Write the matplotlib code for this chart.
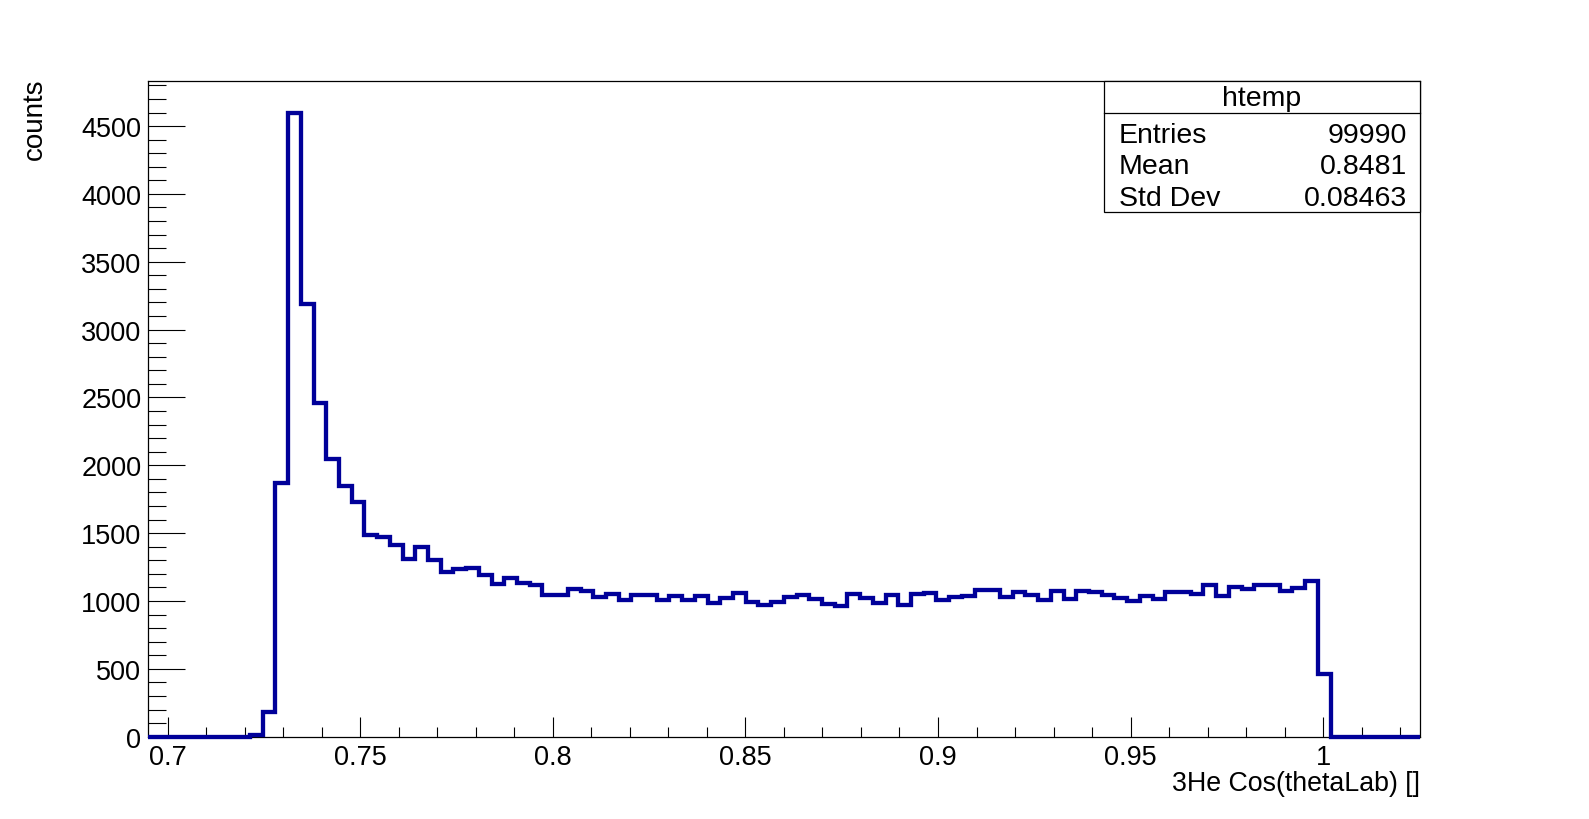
import numpy as np
import matplotlib
matplotlib.use("Agg")
import matplotlib.pyplot as plt
from matplotlib.patches import Rectangle
from matplotlib.lines import Line2D
from matplotlib.ticker import MultipleLocator, FixedLocator

# ---- data ----
x_lo = 0.695
x_hi = 1.025
n_bins = 100
counts = [
    0, 0, 0, 0, 0, 0, 0, 0, 15, 185,
    1870, 4600, 3190, 2460, 2050, 1850, 1730, 1490, 1470, 1410,
    1310, 1400, 1300, 1214, 1238, 1246, 1189, 1122, 1172, 1130,
    1120, 1046, 1046, 1090, 1075, 1026, 1048, 1004, 1046, 1046,
    1004, 1036, 1010, 1036, 987, 1024, 1056, 992, 972, 990,
    1027, 1044, 1012, 975, 963, 1049, 1019, 987, 1041, 972,
    1049, 1061, 1005, 1027, 1036, 1078, 1078, 1032, 1067, 1047,
    1010, 1074, 1017, 1071, 1064, 1047, 1024, 1000, 1036, 1017,
    1069, 1069, 1054, 1121, 1040, 1101, 1091, 1116, 1116, 1071,
    1094, 1150, 462, 0, 0, 0, 0, 0, 0, 0,
]
x_major = [0.7, 0.75, 0.8, 0.85, 0.9, 0.95, 1.0]
x_major_labels = ["0.7", "0.75", "0.8", "0.85", "0.9", "0.95", "1"]
stats_title = "htemp"
stats_names = ["Entries", "Mean", "Std Dev"]
stats_values = ["99990", "0.8481", "0.08463"]
x_title = "3He Cos(thetaLab) []"
y_title = "counts"

# ---- figure ----
W, H = 1589, 820
fig = plt.figure(figsize=(W / 100, H / 100), dpi=100)
plt.rcParams['font.family'] = ['Liberation Sans', 'DejaVu Sans']

ax_l, ax_r = 148.3 / W, 1419.5 / W
ax_b, ax_t = (H - 737.7) / H, (H - 82.3) / H
ax = fig.add_axes([ax_l, ax_b, ax_r - ax_l, ax_t - ax_b])

edges = np.linspace(x_lo, x_hi, n_bins + 1)
ax.stairs(counts, edges, color="#000099", linewidth=3.1, clip_on=False, zorder=3)

ax.set_xlim(x_lo, x_hi)
ax.set_ylim(0, max(counts) * 1.05)

ax.xaxis.set_major_locator(FixedLocator(x_major))
ax.set_xticklabels(x_major_labels)
ax.xaxis.set_minor_locator(MultipleLocator(0.01))
ax.yaxis.set_major_locator(MultipleLocator(500))
ax.yaxis.set_minor_locator(MultipleLocator(100))

for s in ax.spines.values():
    s.set_linewidth(0.9)
    s.set_color("black")

ax.tick_params(axis="both", which="both", direction="in", top=False, right=False,
               width=0.8, colors="black", labelsize=19.5)
ax.tick_params(axis="x", which="major", length=14.4, pad=5)
ax.tick_params(axis="x", which="minor", length=7.2)
ax.tick_params(axis="y", which="major", length=26.6, pad=5)
ax.tick_params(axis="y", which="minor", length=13.3)

# axis titles
fig.text(ax_r, (H - 790.7) / H, x_title, ha="right", va="baseline", fontsize=19.3)
fig.text(34.7 / W, ax_t + 4 / H, y_title, rotation=90, ha="center", va="top", fontsize=20)

# stats box
bx0, bx1 = 1104 / W, 1419.5 / W
by0, by1 = (H - 212.7) / H, (H - 82.3) / H
fig.patches.append(Rectangle((bx0, by0), bx1 - bx0, by1 - by0, transform=fig.transFigure,
                             facecolor="white", edgecolor="black", linewidth=0.9, zorder=5))
fig.lines.append(Line2D([bx0, bx1], [(H - 114) / H] * 2, transform=fig.transFigure,
                        color="black", linewidth=0.9, zorder=6))
fig.text((bx0 + bx1) / 2, (H - 106.5) / H, stats_title, ha="center", va="baseline",
         fontsize=20.5, zorder=7)
baselines = [143, 174.5, 206]
for name, val, yb in zip(stats_names, stats_values, baselines):
    fig.text(1119 / W, (H - yb) / H, name, ha="left", va="baseline", fontsize=20.5, zorder=7)
    fig.text(1407 / W, (H - yb) / H, val, ha="right", va="baseline", fontsize=20.5, zorder=7)

fig.savefig("out.png", dpi=100, facecolor="white")
